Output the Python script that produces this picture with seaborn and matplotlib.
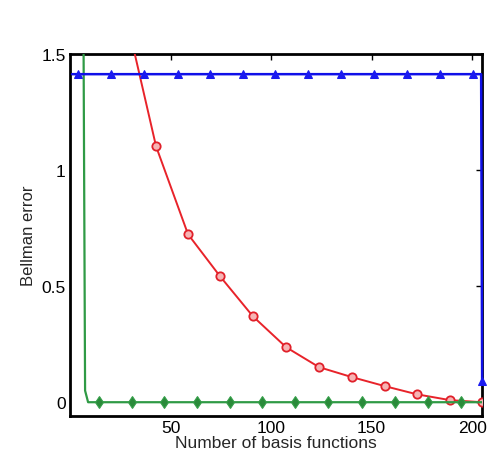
import matplotlib
matplotlib.use("Agg")
import matplotlib.pyplot as plt
import seaborn as sns
import pandas as pd

# ---- data ----
blue_x = [1, 4, 20.5, 37, 53.5, 69.5, 86, 102, 118.5, 135, 151, 167.5, 184, 200.5, 204.5, 205]
blue_y = [1.414, 1.414, 1.414, 1.414, 1.414, 1.414, 1.414, 1.414, 1.414, 1.414, 1.414, 1.414, 1.414, 1.414, 1.414, 0.09]
blue_marks = [1, 2, 3, 4, 5, 6, 7, 8, 9, 10, 11, 12, 13, 15]

red_x = [26.4, 42.8, 58.7, 74.6, 91, 107.5, 123.9, 140.3, 156.7, 172.6, 189, 205]
red_y = [1.72, 1.103, 0.724, 0.543, 0.37, 0.237, 0.151, 0.108, 0.069, 0.034, 0.009, 0.0]

green_x = [6, 7.5, 9, 14.4, 30.8, 46.8, 63.2, 79.6, 95.5, 112, 128.4, 145.3, 161.7, 178.1, 194.5, 205]
green_y = [3.0, 0.05, 0.0, 0, 0, 0, 0, 0, 0, 0, 0, 0, 0, 0, 0, 0]
green_marks = [3, 4, 5, 6, 7, 8, 9, 10, 11, 12, 13, 14]

x_ticks = [50, 100, 150, 200]
y_ticks = [0, 0.5, 1, 1.5]
y_tick_labels = ["0", "0.5", "1", "1.5"]

sns.set_style("white")
plt.rcParams["font.family"] = ["Liberation Sans", "DejaVu Sans"]

fig = plt.figure(figsize=(4.93, 4.64), dpi=100)
ax = fig.add_axes([0.142, 0.101, 0.836, 0.780])

blue_df = pd.DataFrame({"x": blue_x, "y": blue_y})
red_df = pd.DataFrame({"x": red_x, "y": red_y})
green_df = pd.DataFrame({"x": green_x, "y": green_y})

sns.lineplot(data=red_df, x="x", y="y", ax=ax, sort=False, estimator=None,
             color="#e8232a", linewidth=1.4, marker="o", markersize=6,
             markerfacecolor="#f6b4b4", markeredgecolor="#e0202a", markeredgewidth=1.3,
             zorder=3)
sns.lineplot(data=green_df, x="x", y="y", ax=ax, sort=False, estimator=None,
             color="#2f9a45", linewidth=1.6, marker="d", markersize=6,
             markevery=green_marks, markerfacecolor="#2a8a3a", markeredgecolor="#35a04a",
             zorder=3)
sns.lineplot(data=blue_df, x="x", y="y", ax=ax, sort=False, estimator=None,
             color="#1010e8", linewidth=1.8, marker="^", markersize=6,
             markevery=blue_marks, markerfacecolor="#1a1af0", markeredgecolor="#1a1af0",
             zorder=3, clip_on=False)

ax.set_xlim(0, 205)
ax.set_ylim(-0.06, 1.5)
ax.set_xticks(x_ticks)
ax.set_yticks(y_ticks)
ax.set_yticklabels(y_tick_labels)
ax.tick_params(direction="in", top=True, right=True, length=4, width=1,
               labelsize=12.5, colors="black", pad=3)
for s in ax.spines.values():
    s.set_visible(True)
    s.set_color("black")
    s.set_linewidth(2)

ax.set_xlabel("Number of basis functions", fontsize=12.5, labelpad=0)
ax.set_ylabel("Bellman error", fontsize=12, labelpad=4)

fig.savefig("out.png", dpi=100)
